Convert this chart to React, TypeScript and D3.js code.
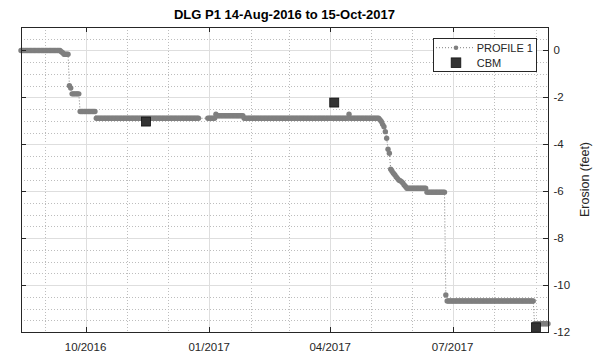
import React from "react";
import * as d3 from "d3";

// ---- data ----
// Runs of daily PROFILE 1 readings: [first day, last day, erosion (feet)]
const profileRuns: [string, string, number][] = [
  ["2016-08-14", "2016-09-12", 0],
  ["2016-09-13", "2016-09-13", -0.05],
  ["2016-09-14", "2016-09-14", -0.1],
  ["2016-09-15", "2016-09-18", -0.16],
  ["2016-09-19", "2016-09-19", -1.5],
  ["2016-09-20", "2016-09-20", -1.6],
  ["2016-09-21", "2016-09-26", -1.85],
  ["2016-09-27", "2016-10-08", -2.6],
  ["2016-10-09", "2016-12-24", -2.89],
  ["2016-12-31", "2017-01-05", -2.89],
  ["2017-01-06", "2017-01-06", -2.72],
  ["2017-01-07", "2017-01-26", -2.78],
  ["2017-01-27", "2017-04-14", -2.89],
  ["2017-04-15", "2017-04-15", -2.72],
  ["2017-04-16", "2017-05-07", -2.89],
  ["2017-05-08", "2017-05-08", -2.95],
  ["2017-05-09", "2017-05-09", -3.03],
  ["2017-05-10", "2017-05-10", -3.15],
  ["2017-05-11", "2017-05-11", -3.25],
  ["2017-05-12", "2017-05-12", -3.46],
  ["2017-05-13", "2017-05-13", -3.74],
  ["2017-05-14", "2017-05-14", -4.21],
  ["2017-05-15", "2017-05-15", -4.38],
  ["2017-05-16", "2017-05-16", -5.06],
  ["2017-05-17", "2017-05-17", -5.15],
  ["2017-05-18", "2017-05-18", -5.23],
  ["2017-05-19", "2017-05-19", -5.3],
  ["2017-05-20", "2017-05-20", -5.38],
  ["2017-05-21", "2017-05-21", -5.45],
  ["2017-05-22", "2017-05-22", -5.52],
  ["2017-05-23", "2017-05-23", -5.55],
  ["2017-05-24", "2017-05-24", -5.59],
  ["2017-05-25", "2017-05-25", -5.65],
  ["2017-05-26", "2017-05-26", -5.73],
  ["2017-05-27", "2017-05-27", -5.8],
  ["2017-05-28", "2017-06-11", -5.87],
  ["2017-06-12", "2017-06-25", -6.04],
  ["2017-06-26", "2017-06-26", -10.42],
  ["2017-06-27", "2017-08-30", -10.68],
  ["2017-08-31", "2017-09-10", -11.65],
];

const cbmDates = ["2016-11-15", "2017-04-04", "2017-09-01"];
const cbmValues = [-3.03, -2.22, -11.8];

const yTicks = [0, -2, -4, -6, -8, -10, -12];
const yMinorTicks = [0.5, -0.5, -1, -1.5, -2.5, -3, -3.5, -4.5, -5, -5.5, -6.5, -7, -7.5, -8.5, -9, -9.5, -10.5, -11, -11.5];

const titleText = "DLG P1 14-Aug-2016 to 15-Oct-2017";
const yLabel = "Erosion (feet)";
const legendLabels = ["PROFILE 1", "CBM"];
const xDomain = ["2016-08-14", "2017-09-10"];
const yDomain = [-12, 1];

// ---- layout ----
const W = 600;
const H = 355;
const L = 21;
const R = 548;
const T = 27;
const B = 332;
const FONT = "'Liberation Sans', Arial, Helvetica, sans-serif";
const TXT = "#262626";

const parse = (s: string) => new Date(s + "T00:00:00Z");

export default function App() {
  const x = d3.scaleUtc().domain(xDomain.map(parse)).range([L, R]);
  const y = d3.scaleLinear().domain(yDomain).range([B, T]);

  const points: { d: Date; v: number }[] = [];
  profileRuns.forEach(([s, e, v]) => {
    const days = d3.utcDay.range(parse(s), d3.utcDay.offset(parse(e), 1));
    days.forEach((d) => points.push({ d, v }));
  });
  const line = d3
    .line<{ d: Date; v: number }>()
    .x((p) => x(p.d))
    .y((p) => y(p.v));

  const [x0, x1] = x.domain();
  const majorX = d3.utcMonth.every(3)!.range(x0, d3.utcDay.offset(x1, 1));
  const minorX = d3.utcMonth
    .every(1)!
    .range(x0, d3.utcDay.offset(x1, 1))
    .filter((d) => d.getUTCMonth() % 3 !== 0);
  const fmt = d3.utcFormat("%m/%Y");

  const cbm = cbmDates.map((d, i) => ({ d: parse(d), v: cbmValues[i] }));
  const sq = 9;

  const lgX = 433;
  const lgY = 38;
  const lgW = 103;
  const lgH = 33;

  return (
    <svg
      width={W}
      height={H}
      style={{ position: "absolute", left: 0, top: 0, background: "#fff" }}
      fontFamily={FONT}
    >
      <rect x={0} y={0} width={W} height={H} fill="#fff" />
      {/* minor grid */}
      <g stroke="#bdbdbd" strokeWidth={1} strokeDasharray="1,2" shapeRendering="crispEdges">
        {minorX.map((d, i) => (
          <line key={"mx" + i} x1={Math.round(x(d)) + 0.5} x2={Math.round(x(d)) + 0.5} y1={T} y2={B} />
        ))}
        {yMinorTicks.map((v, i) => (
          <line key={"my" + i} x1={L} x2={R} y1={Math.round(y(v)) + 0.5} y2={Math.round(y(v)) + 0.5} />
        ))}
      </g>
      {/* major grid */}
      <g stroke="#dedede" strokeWidth={1} shapeRendering="crispEdges">
        {majorX.map((d, i) => (
          <line key={"gx" + i} x1={Math.round(x(d)) + 0.5} x2={Math.round(x(d)) + 0.5} y1={T} y2={B} />
        ))}
        {yTicks.map((v, i) => (
          <line key={"gy" + i} x1={L} x2={R} y1={Math.round(y(v)) + 0.5} y2={Math.round(y(v)) + 0.5} />
        ))}
      </g>
      {/* profile line and markers */}
      <path d={line(points) || ""} fill="none" stroke="#808080" strokeWidth={1} strokeDasharray="1,2" />
      <g fill="#7f7f7f">
        {points.map((p, i) => (
          <circle key={i} cx={x(p.d)} cy={y(p.v)} r={2.7} />
        ))}
      </g>
      {/* CBM */}
      <g fill="#333333" stroke="#111" strokeWidth={0.8}>
        {cbm.map((p, i) => (
          <rect key={i} x={x(p.d) - sq / 2} y={y(p.v) - sq / 2} width={sq} height={sq} />
        ))}
      </g>
      {/* axes box */}
      <g stroke={TXT} strokeWidth={1} fill="none" shapeRendering="crispEdges">
        <rect x={L + 0.5} y={T + 0.5} width={R - L} height={B - T} />
        {majorX.map((d, i) => {
          const xx = Math.round(x(d)) + 0.5;
          return (
            <g key={"tx" + i}>
              <line x1={xx} x2={xx} y1={B} y2={B - 5} />
              <line x1={xx} x2={xx} y1={T} y2={T + 5} />
            </g>
          );
        })}
        {yTicks.map((v, i) => {
          const yy = Math.round(y(v)) + 0.5;
          return (
            <g key={"ty" + i}>
              <line x1={L} x2={L + 5} y1={yy} y2={yy} />
              <line x1={R} x2={R - 5} y1={yy} y2={yy} />
            </g>
          );
        })}
      </g>
      {/* tick labels */}
      <g fill={TXT} fontSize={11.5}>
        {majorX.map((d, i) => (
          <text key={"lx" + i} x={x(d)} y={350.5} textAnchor="middle">
            {fmt(d)}
          </text>
        ))}
        {yTicks.map((v, i) => (
          <text key={"ly" + i} x={553.5} y={y(v) + 4} textAnchor="start">
            {v === 0 ? "0" : "-" + Math.abs(v)}
          </text>
        ))}
      </g>
      <text
        transform={`translate(589,${(T + B) / 2}) rotate(-90)`}
        textAnchor="middle"
        fontSize={12.5}
        fill={TXT}
      >
        {yLabel}
      </text>
      <text x={(L + R) / 2} y={19} textAnchor="middle" fontSize={13} fontWeight="bold" fill="#000">
        {titleText}
      </text>
      {/* legend */}
      <g>
        <rect x={lgX + 0.5} y={lgY + 0.5} width={lgW} height={lgH} fill="#fff" stroke="#262626" strokeWidth={1} shapeRendering="crispEdges" />
        <line x1={lgX + 3} x2={lgX + 41} y1={47.7} y2={47.7} stroke="#808080" strokeDasharray="1,2" />
        <circle cx={lgX + 23} cy={47.7} r={2.3} fill="#7f7f7f" />
        <rect x={lgX + 23 - 4.8} y={62.7 - 4.8} width={9.6} height={9.6} fill="#333333" stroke="#111" strokeWidth={0.8} />
        <text x={476.7} y={51.7} fontSize={11} fill={TXT}>
          {legendLabels[0]}
        </text>
        <text x={476.7} y={66.7} fontSize={11} fill={TXT}>
          {legendLabels[1]}
        </text>
      </g>
    </svg>
  );
}
